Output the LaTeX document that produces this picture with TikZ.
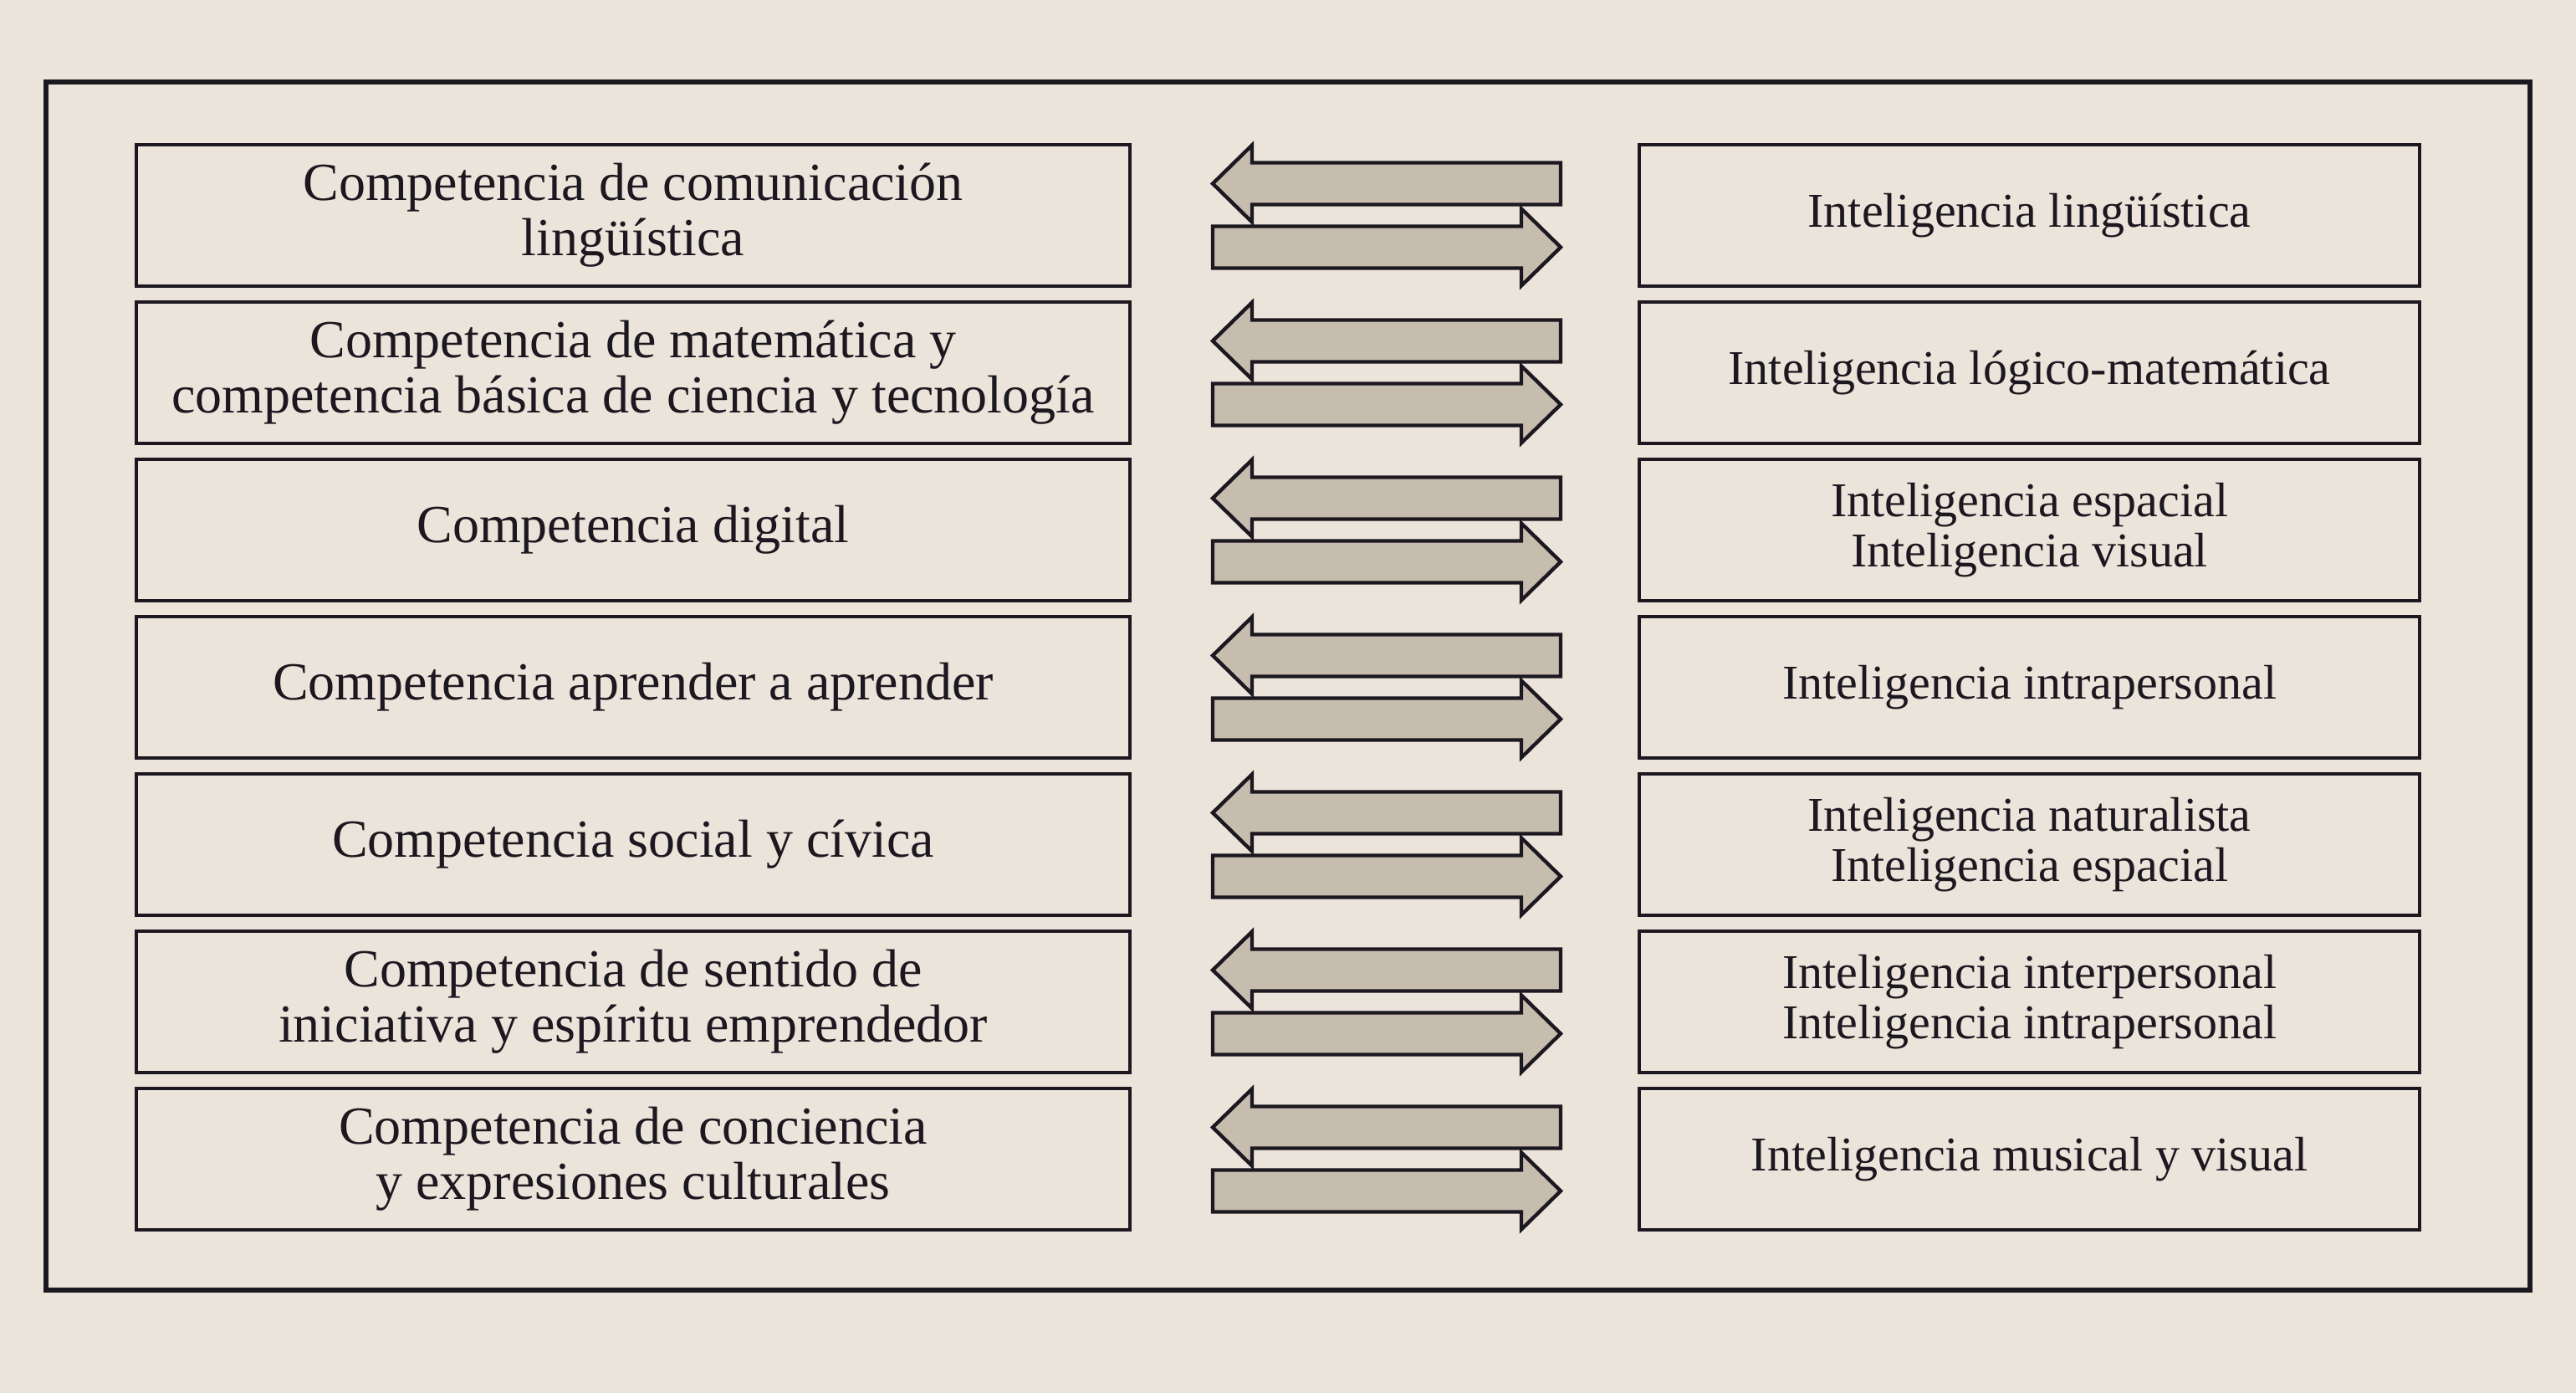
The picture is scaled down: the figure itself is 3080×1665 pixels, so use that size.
\documentclass[tikz,border=0pt]{standalone}
\usepackage{fontspec}
\setmainfont{Liberation Serif}
\definecolor{paper}{HTML}{EBE4DB}
\definecolor{ink}{HTML}{1C1820}
\definecolor{arrowfill}{HTML}{C6BDAE}
\begin{document}
\begin{tikzpicture}[x=0.25pt,y=-0.25pt,
  lbox/.style={draw=ink, line width=1.1pt, minimum width=297pt, minimum height=42.25pt,
    align=center, text=ink, inner sep=0pt, font=\fontsize{16}{16.5}\selectfont},
  rbox/.style={draw=ink, line width=1.1pt, minimum width=233.25pt, minimum height=42.25pt,
    align=center, text=ink, inner sep=0pt, font=\fontsize{14.5}{15}\selectfont},
  outerframe/.style={draw=ink, line width=1.4pt},
  arrowshape/.style={draw=ink, line width=1.1pt, fill=arrowfill, line join=miter}]
\fill[paper] (0,0) rectangle (3080,1665);
\useasboundingbox (0,0) rectangle (3080,1665);
\draw[outerframe] (55,98) rectangle (3025,1542);

% left column
\node[lbox] (L1) at (757,257.5)  {Competencia de comunicación\\lingüística};
\node[lbox] (L2) at (757,445.5)  {Competencia de matemática y\\competencia básica de ciencia y tecnología};
\node[lbox] (L3) at (757,633.5)  {Competencia digital};
\node[lbox] (L4) at (757,821.5)  {Competencia aprender a aprender};
\node[lbox] (L5) at (757,1009.5) {Competencia social y cívica};
\node[lbox] (L6) at (757,1197.5) {Competencia de sentido de\\iniciativa y espíritu emprendedor};
\node[lbox] (L7) at (757,1385.5) {Competencia de conciencia\\y expresiones culturales};

% right column
\node[rbox] (R1) at (2426.5,257.5)  {Inteligencia lingüística};
\node[rbox] (R2) at (2426.5,445.5)  {Inteligencia lógico-matemática};
\node[rbox] (R3) at (2426.5,633.5)  {Inteligencia espacial\\Inteligencia visual};
\node[rbox] (R4) at (2426.5,821.5)  {Inteligencia intrapersonal};
\node[rbox] (R5) at (2426.5,1009.5) {Inteligencia naturalista\\Inteligencia espacial};
\node[rbox] (R6) at (2426.5,1197.5) {Inteligencia interpersonal\\Inteligencia intrapersonal};
\node[rbox] (R7) at (2426.5,1385.5) {Inteligencia musical y visual};

% block arrows
\foreach \i in {0,...,6} {
  \pgfmathsetmacro\ua{257.5+188*\i-38}
  \pgfmathsetmacro\ub{257.5+188*\i+38}
  % left-pointing arrow
  \draw[arrowshape] (1450,\ua) -- (1497,\ua-46) -- (1497,\ua-25) -- (1866,\ua-25)
     -- (1866,\ua+25) -- (1497,\ua+25) -- (1497,\ua+46) -- cycle;
  % right-pointing arrow
  \draw[arrowshape] (1866,\ub) -- (1819,\ub-46) -- (1819,\ub-25) -- (1450,\ub-25)
     -- (1450,\ub+25) -- (1819,\ub+25) -- (1819,\ub+46) -- cycle;
}
\end{tikzpicture}
\end{document}
